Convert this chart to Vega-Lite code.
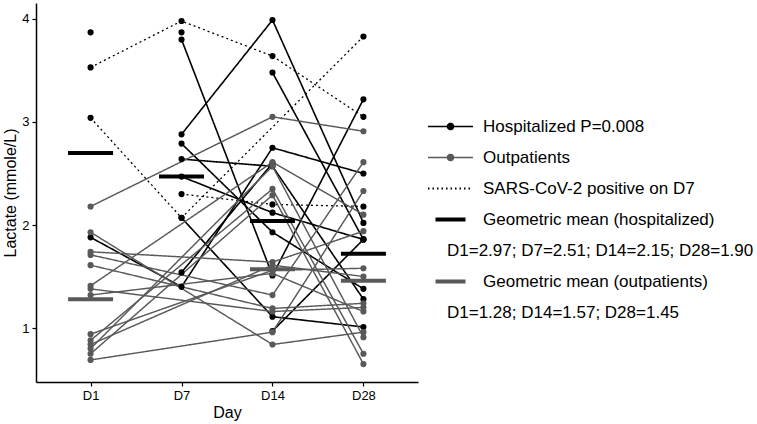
{
  "$schema": "https://vega.github.io/schema/vega-lite/v6.json",
  "width": 382,
  "height": 379,
  "autosize": {"type": "none"},
  "padding": {"left": 36, "top": 3, "right": 339, "bottom": 42},
  "background": "white",
  "config": {"view": {"stroke": null}, "font": "Liberation Sans"},
  "datasets": {
    "obs": [
      {"p": "H1", "series": "Hospitalized P=0.008", "day": "D1", "v": 3.87},
      {"p": "H2", "series": "Hospitalized P=0.008", "day": "D1", "v": 1.88},
      {"p": "H2", "series": "Hospitalized P=0.008", "day": "D7", "v": 1.40},
      {"p": "H2", "series": "Hospitalized P=0.008", "day": "D14", "v": 2.75},
      {"p": "H2", "series": "Hospitalized P=0.008", "day": "D28", "v": 2.50},
      {"p": "H3", "series": "Hospitalized P=0.008", "day": "D7", "v": 3.87},
      {"p": "H4", "series": "Hospitalized P=0.008", "day": "D7", "v": 3.80},
      {"p": "H4", "series": "Hospitalized P=0.008", "day": "D14", "v": 1.51},
      {"p": "H4", "series": "Hospitalized P=0.008", "day": "D28", "v": 3.22},
      {"p": "H5", "series": "Hospitalized P=0.008", "day": "D7", "v": 2.88},
      {"p": "H5", "series": "Hospitalized P=0.008", "day": "D14", "v": 3.99},
      {"p": "H5", "series": "Hospitalized P=0.008", "day": "D28", "v": 2.02},
      {"p": "H6", "series": "Hospitalized P=0.008", "day": "D7", "v": 2.79},
      {"p": "H6", "series": "Hospitalized P=0.008", "day": "D14", "v": 1.93},
      {"p": "H6", "series": "Hospitalized P=0.008", "day": "D28", "v": 1.38},
      {"p": "H7", "series": "Hospitalized P=0.008", "day": "D7", "v": 2.64},
      {"p": "H7", "series": "Hospitalized P=0.008", "day": "D14", "v": 2.57},
      {"p": "H7", "series": "Hospitalized P=0.008", "day": "D28", "v": 1.28},
      {"p": "H8", "series": "Hospitalized P=0.008", "day": "D7", "v": 2.47},
      {"p": "H8", "series": "Hospitalized P=0.008", "day": "D14", "v": 2.12},
      {"p": "H8", "series": "Hospitalized P=0.008", "day": "D28", "v": 1.86},
      {"p": "H9", "series": "Hospitalized P=0.008", "day": "D7", "v": 2.07},
      {"p": "H9", "series": "Hospitalized P=0.008", "day": "D14", "v": 1.11},
      {"p": "H9", "series": "Hospitalized P=0.008", "day": "D28", "v": 1.01},
      {"p": "H10", "series": "Hospitalized P=0.008", "day": "D7", "v": 1.54},
      {"p": "H10", "series": "Hospitalized P=0.008", "day": "D14", "v": 2.60},
      {"p": "H11", "series": "Hospitalized P=0.008", "day": "D14", "v": 3.48},
      {"p": "H11", "series": "Hospitalized P=0.008", "day": "D28", "v": 1.86},
      {"p": "H12", "series": "Hospitalized P=0.008", "day": "D14", "v": 0.97},
      {"p": "H12", "series": "Hospitalized P=0.008", "day": "D28", "v": 1.86},
      {"p": "S1", "series": "SARS-CoV-2 positive on D7", "day": "D1", "v": 3.53},
      {"p": "S1", "series": "SARS-CoV-2 positive on D7", "day": "D7", "v": 3.98},
      {"p": "S1", "series": "SARS-CoV-2 positive on D7", "day": "D14", "v": 3.64},
      {"p": "S1", "series": "SARS-CoV-2 positive on D7", "day": "D28", "v": 3.05},
      {"p": "S2", "series": "SARS-CoV-2 positive on D7", "day": "D1", "v": 3.04},
      {"p": "S2", "series": "SARS-CoV-2 positive on D7", "day": "D7", "v": 2.07},
      {"p": "S2", "series": "SARS-CoV-2 positive on D7", "day": "D28", "v": 3.83},
      {"p": "S3", "series": "SARS-CoV-2 positive on D7", "day": "D7", "v": 2.30},
      {"p": "S3", "series": "SARS-CoV-2 positive on D7", "day": "D14", "v": 2.20},
      {"p": "S3", "series": "SARS-CoV-2 positive on D7", "day": "D28", "v": 2.18},
      {"p": "O1", "series": "Outpatients", "day": "D1", "v": 2.18},
      {"p": "O1", "series": "Outpatients", "day": "D14", "v": 3.05},
      {"p": "O1", "series": "Outpatients", "day": "D28", "v": 2.91},
      {"p": "O2", "series": "Outpatients", "day": "D1", "v": 1.93},
      {"p": "O2", "series": "Outpatients", "day": "D14", "v": 0.84},
      {"p": "O2", "series": "Outpatients", "day": "D28", "v": 0.96},
      {"p": "O3", "series": "Outpatients", "day": "D1", "v": 1.74},
      {"p": "O3", "series": "Outpatients", "day": "D14", "v": 1.64},
      {"p": "O3", "series": "Outpatients", "day": "D28", "v": 1.94},
      {"p": "O4", "series": "Outpatients", "day": "D1", "v": 1.71},
      {"p": "O4", "series": "Outpatients", "day": "D14", "v": 1.32},
      {"p": "O4", "series": "Outpatients", "day": "D28", "v": 2.61},
      {"p": "O5", "series": "Outpatients", "day": "D1", "v": 1.61},
      {"p": "O5", "series": "Outpatients", "day": "D14", "v": 1.19},
      {"p": "O5", "series": "Outpatients", "day": "D28", "v": 1.24},
      {"p": "O6", "series": "Outpatients", "day": "D1", "v": 1.41},
      {"p": "O6", "series": "Outpatients", "day": "D14", "v": 2.61},
      {"p": "O6", "series": "Outpatients", "day": "D28", "v": 2.10},
      {"p": "O7", "series": "Outpatients", "day": "D1", "v": 1.38},
      {"p": "O7", "series": "Outpatients", "day": "D14", "v": 1.16},
      {"p": "O7", "series": "Outpatients", "day": "D28", "v": 1.20},
      {"p": "O8", "series": "Outpatients", "day": "D1", "v": 1.32},
      {"p": "O8", "series": "Outpatients", "day": "D14", "v": 1.53},
      {"p": "O8", "series": "Outpatients", "day": "D28", "v": 1.16},
      {"p": "O9", "series": "Outpatients", "day": "D1", "v": 0.94},
      {"p": "O9", "series": "Outpatients", "day": "D14", "v": 1.56},
      {"p": "O9", "series": "Outpatients", "day": "D28", "v": 1.58},
      {"p": "O10", "series": "Outpatients", "day": "D1", "v": 0.88},
      {"p": "O10", "series": "Outpatients", "day": "D14", "v": 2.35},
      {"p": "O10", "series": "Outpatients", "day": "D28", "v": 0.75},
      {"p": "O11", "series": "Outpatients", "day": "D1", "v": 0.84},
      {"p": "O11", "series": "Outpatients", "day": "D14", "v": 1.61},
      {"p": "O11", "series": "Outpatients", "day": "D28", "v": 1.50},
      {"p": "O12", "series": "Outpatients", "day": "D1", "v": 0.80},
      {"p": "O12", "series": "Outpatients", "day": "D14", "v": 2.57},
      {"p": "O12", "series": "Outpatients", "day": "D28", "v": 0.91},
      {"p": "O13", "series": "Outpatients", "day": "D1", "v": 0.75},
      {"p": "O13", "series": "Outpatients", "day": "D14", "v": 2.29},
      {"p": "O13", "series": "Outpatients", "day": "D28", "v": 0.65},
      {"p": "O14", "series": "Outpatients", "day": "D1", "v": 0.69},
      {"p": "O14", "series": "Outpatients", "day": "D14", "v": 0.96},
      {"p": "O14", "series": "Outpatients", "day": "D28", "v": 2.33}
    ],
    "means": [
      {"grp": "hosp", "day": "D1", "v": 2.70},
      {"grp": "hosp", "day": "D7", "v": 2.47},
      {"grp": "hosp", "day": "D14", "v": 2.04},
      {"grp": "hosp", "day": "D28", "v": 1.72},
      {"grp": "out", "day": "D1", "v": 1.28},
      {"grp": "out", "day": "D14", "v": 1.57},
      {"grp": "out", "day": "D28", "v": 1.46}
    ]
  },
  "encoding": {
    "x": {
      "field": "day", "type": "ordinal",
      "scale": {"type": "point", "domain": ["D1", "D7", "D14", "D28"], "padding": 0.6},
      "axis": {"title": "Day", "titleFontSize": 16, "titleFontWeight": "normal", "titleColor": "#000",
               "labelFontSize": 13, "labelColor": "#000", "labelAngle": 0, "domainColor": "#000",
               "domainWidth": 1.5, "tickColor": "#000", "tickSize": 4, "tickWidth": 1.2,
               "labelPadding": 3, "titlePadding": 2, "grid": false}
    },
    "y": {
      "field": "v", "type": "quantitative",
      "scale": {"domain": [0.476, 4.155], "nice": false, "zero": false},
      "axis": {"title": "Lactate (mmole/L)", "values": [1, 2, 3, 4], "titleFontSize": 16, "titleFontWeight": "normal",
               "titleColor": "#000", "labelFontSize": 13, "labelColor": "#000", "domainColor": "#000",
               "domainWidth": 1.5, "tickColor": "#000", "tickSize": 4, "tickWidth": 1.2,
               "labelPadding": 3, "titlePadding": 3, "grid": false}
    }
  },
  "layer": [
    {
      "data": {"name": "obs"},
      "mark": {"type": "line"},
      "encoding": {
        "detail": {"field": "p"},
        "color": {
          "field": "series", "type": "nominal",
          "scale": {
            "domain": ["Hospitalized P=0.008", "Outpatients", "SARS-CoV-2 positive on D7",
                       "Geometric mean (hospitalized)", "D1=2.97; D7=2.51; D14=2.15; D28=1.90",
                       "Geometric mean (outpatients)", "D1=1.28; D14=1.57; D28=1.45"],
            "range": ["#000000", "#595959", "#000000", "#000000", "#000000", "#595959", "#595959"]
          },
          "legend": {
            "title": null,
            "orient": "none",
            "legendX": 406,
            "legendY": 115,
            "padding": 0,
            "labelFont": "Liberation Sans",
            "labelFontSize": 17,
            "labelColor": "#000",
            "labelLimit": 400,
            "symbolSize": 100,
            "labelOffset": 24,
            "rowPadding": 13,
            "encode": {
              "symbols": {
                "update": {
                  "shape": {"signal": "((isString(datum) ? datum : datum.value) === 'Hospitalized P=0.008' || (isString(datum) ? datum : datum.value) === 'Outpatients') ? 'M-4.5,0H4.5M0.6,0A0.6,0.6,0,1,1,-0.6,0A0.6,0.6,0,1,1,0.6,0Z' : (indexof(isString(datum) ? datum : datum.value, 'Geometric') === 0 ? 'M-3,0H3' : 'M-4.5,0H4.5')"},
                  "fill": {"signal": "(isString(datum) ? datum : datum.value) === 'Outpatients' ? '#595959' : ((isString(datum) ? datum : datum.value) === 'Hospitalized P=0.008' ? '#000000' : 'transparent')"},
                  "fillOpacity": {"value": 1},
                  "strokeDash": {"signal": "(isString(datum) ? datum : datum.value) === 'SARS-CoV-2 positive on D7' ? [1.5, 3] : [1, 0]"},
                  "strokeWidth": {"signal": "indexof(isString(datum) ? datum : datum.value, 'Geometric') === 0 ? 4 : ((isString(datum) ? datum : datum.value) === 'SARS-CoV-2 positive on D7' ? 2 : 1.6)"},
                  "opacity": {"signal": "indexof(isString(datum) ? datum : datum.value, 'D1=') === 0 ? 0 : 1"}
                }
              },
              "labels": {
                "update": {
                  "dx": {"signal": "indexof(isString(datum) ? datum : datum.value, 'D1=') === 0 ? -36 : 0"}
                }
              }
            }
          }
        },
        "strokeDash": {
          "field": "series", "type": "nominal",
          "scale": {"domain": ["Hospitalized P=0.008", "Outpatients", "SARS-CoV-2 positive on D7"],
                    "range": [[1, 0], [1, 0], [2, 3]]},
          "legend": null
        },
        "strokeWidth": {
          "field": "series", "type": "nominal",
          "scale": {"domain": ["Hospitalized P=0.008", "Outpatients", "SARS-CoV-2 positive on D7"],
                    "range": [1.6, 1.3, 2.2]},
          "legend": null
        }
      }
    },
    {
      "data": {"name": "obs"},
      "mark": {"type": "circle", "size": 38, "opacity": 1},
      "encoding": {
        "color": {"condition": {"test": "datum.series === 'Outpatients'", "value": "#595959"}, "value": "#000000"}
      }
    },
    {
      "data": {"name": "means"},
      "mark": {"type": "tick", "thickness": 4, "size": 45, "opacity": 1},
      "encoding": {
        "color": {"condition": {"test": "datum.grp === 'out'", "value": "#595959"}, "value": "#000000"}
      }
    }
  ]
}
